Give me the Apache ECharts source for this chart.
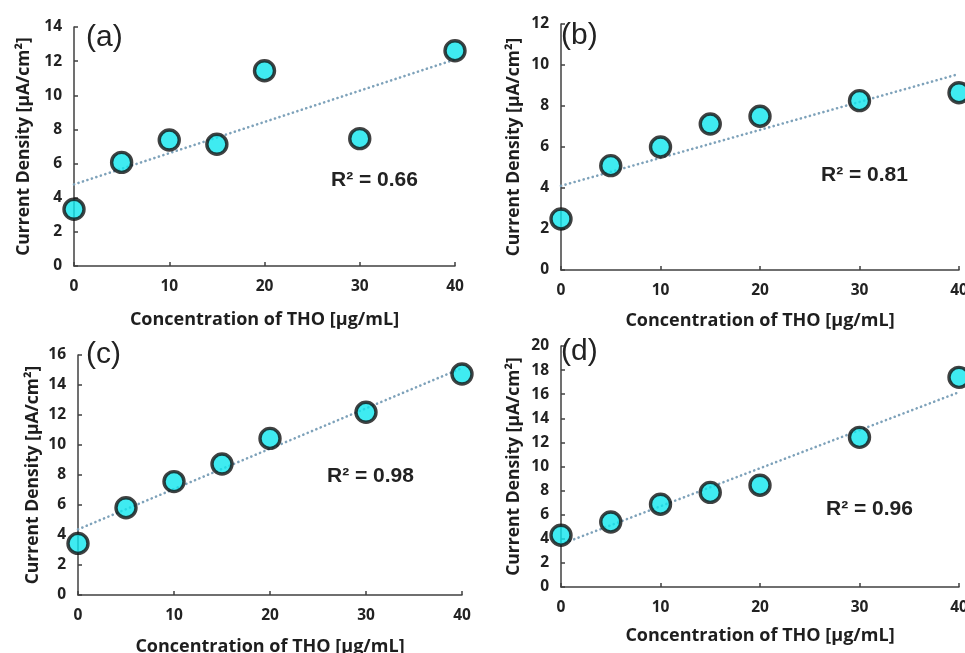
<!DOCTYPE html>
<html>
<head>
<meta charset="utf-8">
<script src="https://cdn.jsdelivr.net/npm/echarts@6/dist/echarts.min.js"></script>
<style>
html,body{margin:0;padding:0;background:#fff;}
#chart{width:965px;height:653px;}
</style>
</head>
<body>
<div id="chart"></div>
<script>
// Concentration of THO [µg/mL]
const concentrations = [0, 5, 10, 15, 20, 30, 40];
const xTicks = [0, 10, 20, 30, 40];
// Current density [µA/cm²] per panel
const valuesA = [3.32, 6.07, 7.38, 7.13, 11.44, 7.46, 12.61];
const valuesB = [2.49, 5.09, 6.00, 7.12, 7.50, 8.26, 8.65];
const valuesC = [3.44, 5.82, 7.56, 8.73, 10.44, 12.18, 14.73];
const valuesD = [4.30, 5.40, 6.87, 7.85, 8.45, 12.42, 17.40];
const panelLabels = ['(a)', '(b)', '(c)', '(d)'];
const r2Labels = ['R² = 0.66', 'R² = 0.81', 'R² = 0.98', 'R² = 0.96'];
const yMax = [14, 12, 16, 20];
const yInterval = [2, 2, 2, 2];
const xTitle = 'Concentration of THO [µg/mL]';
const yTitle = 'Current Density [µA/cm²]';

const panels = [valuesA, valuesB, valuesC, valuesD];

function linFit(xs, ys) {
  const n = xs.length;
  const mx = xs.reduce((a, b) => a + b, 0) / n;
  const my = ys.reduce((a, b) => a + b, 0) / n;
  let sxy = 0, sxx = 0;
  for (let i = 0; i < n; i++) { sxy += (xs[i] - mx) * (ys[i] - my); sxx += (xs[i] - mx) ** 2; }
  const m = sxy / sxx;
  return { m, b: my - m * mx };
}

const grids = [
  { left: 74, top: 27, width: 381, height: 239 },
  { left: 561, top: 24, width: 398, height: 246 },
  { left: 78, top: 355, width: 384, height: 240 },
  { left: 561, top: 346, width: 398, height: 241 }
];
const xNameGap = [45, 42, 43, 40];
const yNameGap = [41, 38, 36, 38];

const tickFont = { fontFamily: 'Open Sans', fontWeight: 'bold', fontSize: 15.5, color: '#222' };
const titleFont = { fontFamily: 'Open Sans', fontWeight: 'bold', fontSize: 18, color: '#1e1e1e' };
const axisLineStyle = { color: '#404040', width: 1.5 };

const option = {
  animation: false,
  backgroundColor: '#fff',
  grid: grids.map(g => Object.assign({ containLabel: false, outerBoundsMode: 'none' }, g)),
  xAxis: grids.map((g, i) => ({
    type: 'value', gridIndex: i, min: 0, max: 40, interval: 10,
    splitLine: { show: false },
    axisLine: { show: true, lineStyle: axisLineStyle },
    axisTick: { show: true, inside: true, length: 4, lineStyle: axisLineStyle },
    axisLabel: Object.assign({ margin: 13, formatter: v => xTicks.includes(v) ? String(v) : '' }, tickFont),
    name: xTitle, nameLocation: 'middle', nameGap: xNameGap[i],
    nameTextStyle: titleFont
  })),
  yAxis: grids.map((g, i) => ({
    type: 'value', gridIndex: i, min: 0, max: yMax[i], interval: yInterval[i],
    splitLine: { show: false },
    axisLine: { show: true, lineStyle: axisLineStyle },
    axisTick: { show: true, inside: true, length: 4, lineStyle: axisLineStyle },
    axisLabel: Object.assign({ margin: 12 }, tickFont),
    name: yTitle, nameLocation: 'middle', nameGap: yNameGap[i], nameRotate: 90,
    nameTextStyle: Object.assign({}, titleFont, { fontSize: 17.5 })
  })),
  series: [],
  graphic: []
};

panels.forEach((vals, i) => {
  const fit = linFit(concentrations, vals);
  option.series.push({
    type: 'line', xAxisIndex: i, yAxisIndex: i, symbol: 'none', silent: true,
    data: [[0, fit.b], [40, fit.b + fit.m * 40]],
    lineStyle: { color: '#7ea2ba', width: 2.6, type: [0.1, 4.6], cap: 'round' },
    z: 2
  });
  option.series.push({
    type: 'scatter', xAxisIndex: i, yAxisIndex: i,
    data: concentrations.map((c, k) => [c, vals[k]]),
    symbol: 'circle', symbolSize: 20,
    itemStyle: { color: '#0fe6ee', borderColor: '#111', borderWidth: 3.4 },
    z: 3
  });
});

const labelPos = [[86, 23], [561, 21], [86, 340], [561, 337]];
const r2Pos = [[331, 180], [821, 175], [327, 476], [826, 509]];
labelPos.forEach((p, i) => {
  option.graphic.push({
    type: 'text', left: p[0], top: p[1], z: 10,
    style: { text: panelLabels[i], font: '30px "Liberation Sans", Arial, sans-serif', fill: '#222' }
  });
});
r2Pos.forEach((p, i) => {
  option.graphic.push({
    type: 'text', x: p[0], y: p[1], z: 10,
    style: { text: r2Labels[i], font: 'bold 21px "Liberation Sans", Arial, sans-serif', fill: '#222', verticalAlign: 'middle', align: 'left' }
  });
});

const chart = echarts.init(document.getElementById('chart'), null, { renderer: 'canvas' });
chart.setOption(option);
</script>
</body>
</html>
